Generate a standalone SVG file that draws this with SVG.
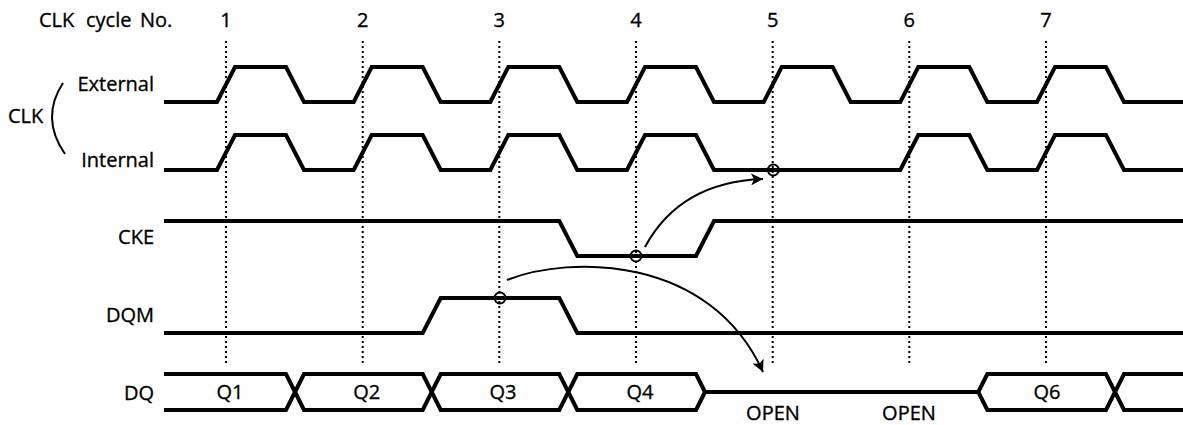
<svg xmlns="http://www.w3.org/2000/svg" width="1183" height="425" viewBox="0 0 1183 425">
<style>
text{font-family:"Open Sans","Noto Sans","Liberation Sans",sans-serif;font-size:20px;fill:#000;stroke:#000;stroke-width:0.35}
.lbl{text-anchor:end}
.mid{text-anchor:middle}
.sig{fill:none;stroke:#000;stroke-width:4;stroke-linejoin:miter}
.dot{fill:none;stroke:#000;stroke-width:2;stroke-dasharray:2 3}
.arr{fill:none;stroke:#000;stroke-width:2}
.ring{fill:none;stroke:#000;stroke-width:2}
</style>
<defs>
<marker id="ah" viewBox="0 0 10 10" refX="10" refY="5" markerWidth="12" markerHeight="12" markerUnits="userSpaceOnUse" orient="auto">
<path d="M0,0 L10,5 L0,10 L2.5,5 z" fill="#000"/>
</marker>
</defs>
<rect width="1183" height="425" fill="#fff"/>
<g id="header">
<text x="39" y="27">CLK</text>
<text x="86" y="27">cycle</text>
<text x="140" y="27">No.</text>
<text class="mid" x="226" y="27">1</text>
<text class="mid" x="362.7" y="27">2</text>
<text class="mid" x="499.3" y="27">3</text>
<text class="mid" x="636" y="27">4</text>
<text class="mid" x="772.7" y="27">5</text>
<text class="mid" x="909.3" y="27">6</text>
<text class="mid" x="1046" y="27">7</text>
</g>
<g id="gridlines">
<line class="dot" x1="226" y1="41" x2="226" y2="366"/>
<line class="dot" x1="362.7" y1="41" x2="362.7" y2="366"/>
<line class="dot" x1="499.3" y1="41" x2="499.3" y2="366"/>
<line class="dot" x1="636" y1="41" x2="636" y2="366"/>
<line class="dot" x1="772.7" y1="41" x2="772.7" y2="366"/>
<line class="dot" x1="909.3" y1="41" x2="909.3" y2="366"/>
<line class="dot" x1="1046" y1="41" x2="1046" y2="366"/>
</g>
<g id="clk-label">
<text x="8" y="123">CLK</text>
<path d="M63,83 Q40,118 65,154" fill="none" stroke="#000" stroke-width="2"/>
</g>
<g id="clk-external">
<text class="lbl" x="154" y="91">External</text>
<path class="sig" d="M164,102 L217,102 L235,67 L286,67 L304,102 L353.7,102 L371.7,67 L422.7,67 L440.7,102 L490.3,102 L508.3,67 L559.3,67 L577.3,102 L627,102 L645,67 L696,67 L714,102 L763.7,102 L781.7,67 L832.7,67 L850.7,102 L900.3,102 L918.3,67 L969.3,67 L987.3,102 L1037,102 L1055,67 L1106,67 L1124,102 L1183,102"/>
</g>
<g id="clk-internal">
<text class="lbl" x="154" y="167">Internal</text>
<path class="sig" d="M164,170 L217,170 L235,135 L286,135 L304,170 L353.7,170 L371.7,135 L422.7,135 L440.7,170 L490.3,170 L508.3,135 L559.3,135 L577.3,170 L627,170 L645,135 L696,135 L714,170 L900.3,170 L918.3,135 L969.3,135 L987.3,170 L1037,170 L1055,135 L1106,135 L1124,170 L1183,170"/>
</g>
<g id="cke">
<text class="lbl" x="154" y="244">CKE</text>
<path class="sig" d="M164,221 L559.3,221 L577.3,256 L696,256 L714,221 L1183,221"/>
</g>
<g id="dqm">
<text class="lbl" x="154" y="322">DQM</text>
<path class="sig" d="M164,333 L422.7,333 L440.7,298 L559.3,298 L577.3,333 L1183,333"/>
</g>
<g id="dq">
<text class="lbl" x="154" y="400">DQ</text>
<path class="sig" d="M164,374 L286,374 L295,392 L286,410 L164,410"/>
<path class="sig" d="M295,392 L304,374 L422.7,374 L431.7,392 L422.7,410 L304,410 Z"/>
<path class="sig" d="M431.7,392 L440.7,374 L559.3,374 L568.3,392 L559.3,410 L440.7,410 Z"/>
<path class="sig" d="M568.3,392 L577.3,374 L696,374 L705,392 L696,410 L577.3,410 Z"/>
<path class="sig" d="M705,392 L978.3,392"/>
<path class="sig" d="M978.3,392 L987.3,374 L1106,374 L1115,392 L1106,410 L987.3,410 Z"/>
<path class="sig" d="M1183,374 L1124,374 L1115,392 L1124,410 L1183,410"/>
<text class="mid" x="230" y="399">Q1</text>
<text class="mid" x="366.7" y="399">Q2</text>
<text class="mid" x="503" y="399">Q3</text>
<text class="mid" x="640" y="399">Q4</text>
<text class="mid" x="1047" y="399">Q6</text>
<text class="mid" x="773" y="420">OPEN</text>
<text class="mid" x="909" y="420">OPEN</text>
</g>
<g id="connectors">
<circle class="ring" cx="500" cy="298" r="5.5"/>
<circle class="ring" cx="636" cy="256" r="5.5"/>
<circle class="ring" cx="773.3" cy="170" r="5.5"/>
<path class="arr" d="M645,247 Q680,182 763,179" marker-end="url(#ah)"/>
<path class="arr" d="M507,280 C570,255 710,255 763,372" marker-end="url(#ah)"/>
</g>
</svg>
